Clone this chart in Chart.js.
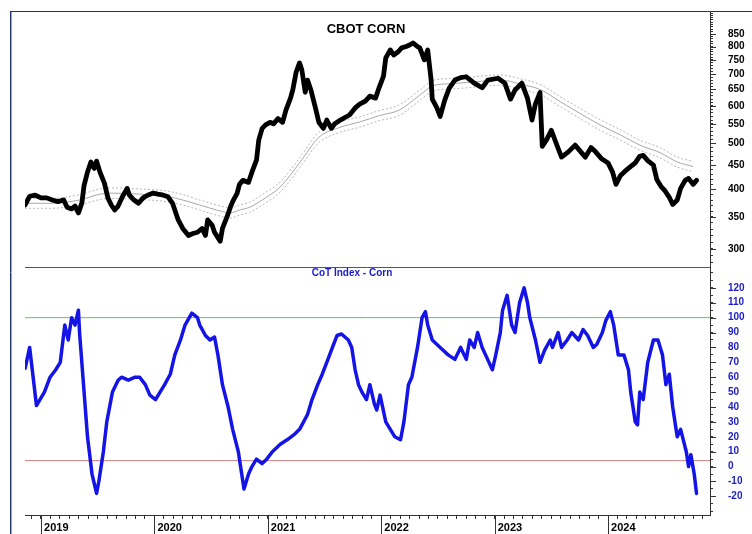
<!DOCTYPE html>
<html>
<head>
<meta charset="utf-8">
<script src="https://cdn.jsdelivr.net/npm/chart.js@4.4.1/dist/chart.umd.min.js"></script>
<style>
  html, body { margin: 0; padding: 0; background: #fff; }
  #wrap { position: relative; width: 752px; height: 534px; }
</style>
</head>
<body>
<div id="wrap"><canvas id="cornChart" width="752" height="534"></canvas></div>
<script>
// CBOT corn, weekly-ish closes (decimal year, cents/bu)
const priceDates = [2018.86, 2018.90, 2018.95, 2019.00, 2019.05, 2019.10, 2019.15, 2019.20, 2019.23, 2019.27,
  2019.30, 2019.33, 2019.36, 2019.38, 2019.41, 2019.44, 2019.47, 2019.49, 2019.52, 2019.56,
  2019.59, 2019.62, 2019.65, 2019.68, 2019.72, 2019.76, 2019.78, 2019.82, 2019.86, 2019.90,
  2019.94, 2019.99, 2020.03, 2020.08, 2020.12, 2020.16, 2020.18, 2020.21, 2020.25, 2020.30,
  2020.34, 2020.38, 2020.42, 2020.45, 2020.47, 2020.51, 2020.53, 2020.58, 2020.60, 2020.64,
  2020.67, 2020.69, 2020.73, 2020.75, 2020.78, 2020.83, 2020.86, 2020.90, 2020.92, 2020.95,
  2020.98, 2021.02, 2021.05, 2021.09, 2021.13, 2021.16, 2021.20, 2021.22, 2021.25, 2021.28,
  2021.30, 2021.33, 2021.35, 2021.38, 2021.42, 2021.45, 2021.49, 2021.52, 2021.56, 2021.59,
  2021.64, 2021.68, 2021.72, 2021.77, 2021.81, 2021.86, 2021.90, 2021.95, 2021.98, 2022.02,
  2022.04, 2022.08, 2022.11, 2022.15, 2022.18, 2022.22, 2022.25, 2022.28, 2022.32, 2022.34,
  2022.38, 2022.41, 2022.44, 2022.45, 2022.49, 2022.52, 2022.56, 2022.60, 2022.65, 2022.70,
  2022.75, 2022.82, 2022.89, 2022.94, 2023.03, 2023.09, 2023.14, 2023.18, 2023.24, 2023.29,
  2023.33, 2023.36, 2023.40, 2023.42, 2023.46, 2023.50, 2023.55, 2023.59, 2023.65, 2023.71,
  2023.76, 2023.80, 2023.85, 2023.89, 2023.94, 2024.00, 2024.04, 2024.07, 2024.11, 2024.15,
  2024.19, 2024.24, 2024.28, 2024.31, 2024.35, 2024.40, 2024.43, 2024.47, 2024.50, 2024.54,
  2024.57, 2024.61, 2024.64, 2024.68, 2024.71, 2024.75, 2024.78];
const priceValues = [371, 387, 389, 384, 384, 380, 377, 380, 367, 364,
  369, 357, 374, 408, 435, 457, 443, 459, 435, 412,
  384, 371, 362, 369, 387, 402, 389, 380, 374, 384,
  389, 393, 391, 389, 386, 374, 362, 345, 331, 320,
  323, 325, 331, 320, 345, 336, 325, 311, 331, 350,
  367, 377, 393, 410, 418, 414, 435, 461, 508, 538,
  547, 554, 550, 564, 554, 588, 623, 648, 707, 739,
  714, 641, 680, 648, 594, 554, 538, 560, 538, 550,
  560, 567, 574, 594, 605, 614, 629, 623, 654, 693,
  757, 787, 768, 780, 795, 800, 806, 814, 800, 795,
  750, 787, 680, 620, 595, 570, 617, 654, 680, 688,
  691, 670, 655, 680, 686, 670, 620, 648, 670, 622,
  560, 606, 640, 493, 510, 533, 495, 468, 480, 496,
  480, 468, 490, 480, 465, 455, 435, 410, 428, 437,
  445, 455, 470, 472, 460, 450, 420, 405, 398, 385,
  372, 380, 402, 418, 422, 410, 418];

// moving average and its envelope
const maDates = [2018.86, 2019.08, 2019.34, 2019.52, 2019.61, 2019.87, 2020.11, 2020.25, 2020.40, 2020.55,
  2020.67, 2020.75, 2020.84, 2020.95, 2021.11, 2021.28, 2021.45, 2021.63, 2021.81, 2021.98,
  2022.16, 2022.34, 2022.46, 2022.61, 2022.76, 2023.05, 2023.23, 2023.41, 2023.58, 2023.76,
  2023.93, 2024.11, 2024.28, 2024.46, 2024.61, 2024.75];
const maValues = [374, 374, 380, 391, 393, 391, 387, 380, 371, 362,
  357, 362, 367, 380, 405, 455, 515, 540, 555, 572,
  588, 632, 662, 668, 672, 680, 667, 648, 612, 577,
  547, 521, 496, 478, 457, 447];
const maUpper = [383, 383, 390, 401, 403, 401, 397, 390, 380, 371,
  366, 371, 376, 390, 415, 466, 528, 554, 569, 586,
  603, 648, 679, 685, 689, 697, 684, 664, 627, 591,
  561, 534, 508, 490, 468, 458];
const maLower = [365, 365, 371, 381, 383, 381, 377, 371, 362, 353,
  348, 353, 358, 371, 395, 444, 502, 527, 541, 558,
  573, 616, 645, 651, 655, 663, 650, 632, 597, 563,
  533, 508, 484, 466, 446, 436];

// CoT index
const cotDates = [2018.86, 2018.90, 2018.96, 2019.03, 2019.08, 2019.13, 2019.17, 2019.21, 2019.24, 2019.27,
  2019.30, 2019.33, 2019.34, 2019.37, 2019.41, 2019.45, 2019.49, 2019.51, 2019.55, 2019.58,
  2019.63, 2019.68, 2019.71, 2019.77, 2019.83, 2019.87, 2019.92, 2019.96, 2020.01, 2020.05,
  2020.09, 2020.14, 2020.18, 2020.23, 2020.27, 2020.33, 2020.38, 2020.40, 2020.45, 2020.49,
  2020.53, 2020.56, 2020.60, 2020.65, 2020.69, 2020.74, 2020.79, 2020.83, 2020.86, 2020.90,
  2020.95, 2020.99, 2021.04, 2021.11, 2021.17, 2021.24, 2021.28, 2021.35, 2021.39, 2021.44,
  2021.48, 2021.52, 2021.57, 2021.61, 2021.65, 2021.71, 2021.74, 2021.77, 2021.80, 2021.83,
  2021.87, 2021.90, 2021.94, 2021.96, 2021.99, 2022.04, 2022.08, 2022.12, 2022.17, 2022.20,
  2022.24, 2022.27, 2022.32, 2022.36, 2022.39, 2022.41, 2022.45, 2022.52, 2022.59, 2022.65,
  2022.70, 2022.75, 2022.78, 2022.82, 2022.85, 2022.89, 2022.92, 2022.98, 2023.01, 2023.05,
  2023.07, 2023.11, 2023.15, 2023.18, 2023.22, 2023.26, 2023.29, 2023.31, 2023.36, 2023.40,
  2023.44, 2023.49, 2023.51, 2023.56, 2023.59, 2023.64, 2023.68, 2023.74, 2023.78, 2023.82,
  2023.87, 2023.90, 2023.95, 2023.98, 2024.02, 2024.05, 2024.09, 2024.14, 2024.18, 2024.20,
  2024.24, 2024.26, 2024.28, 2024.31, 2024.35, 2024.40, 2024.44, 2024.48, 2024.51, 2024.54,
  2024.57, 2024.61, 2024.64, 2024.69, 2024.71, 2024.73, 2024.76, 2024.78];
const cotValues = [66, 80, 41, 50, 60, 65, 70, 95, 85, 100,
  95, 105, 90, 60, 20, -5, -18, -10, 10, 30,
  50, 58, 60, 58, 60, 60, 55, 48, 45, 50,
  55, 62, 75, 85, 95, 103, 100, 95, 88, 85,
  87, 75, 55, 40, 25, 10, -15, -5, 0, 5,
  2, 5, 10, 15, 18, 22, 25, 35, 45, 55,
  62, 70, 80, 88, 89, 85, 80, 65, 55, 50,
  45, 55, 42, 38, 48, 30, 25, 20, 18, 30,
  55, 60, 80, 100, 104, 95, 85, 80, 75, 72,
  80, 72, 85, 80, 90, 80, 75, 65, 75, 90,
  105, 115, 95, 90, 110, 120, 110, 100, 85, 70,
  78, 85, 80, 90, 80, 85, 90, 85, 92, 88,
  80, 82, 90, 98, 104, 95, 75, 75, 65, 50,
  30, 28, 50, 45, 70, 85, 85, 75, 55, 62,
  40, 20, 25, 10, 0, 8, -5, -18];
const cotHighLine = 100;
const cotLowLine = 4;

// axis labels
const priceTicks = [300, 350, 400, 450, 500, 550, 600, 650, 700, 750, 800, 850];
const cotTicks = [-20, -10, 0, 10, 20, 30, 40, 50, 60, 70, 80, 90, 100, 110, 120];
const yearTicks = [2019, 2020, 2021, 2022, 2023, 2024];

const xStart = 2018.859;
const xEnd = 2024.899;

function pairs(xs, ys) {
  return xs.map((x, i) => ({ x: x, y: ys[i] }));
}

// keep tick labels from eating into the plot area
function noMargins(scale) {
  scale.paddingTop = 0;
  scale.paddingBottom = 0;
  scale.paddingLeft = 0;
  scale.paddingRight = 0;
}

const labelFont = { family: 'Liberation Sans', size: 10, weight: 'bold' };

const decor = {
  id: 'decor',
  beforeDraw(chart) {
    const c = chart.ctx;
    c.save();
    c.fillStyle = '#fff';
    c.fillRect(0, 0, chart.width, chart.height);
    // outer frame
    c.strokeStyle = '#9aa8cc';
    c.lineWidth = 1;
    c.beginPath(); c.moveTo(11.5, 11); c.lineTo(11.5, chart.height); c.stroke();
    c.strokeStyle = '#22306e';
    c.beginPath(); c.moveTo(10.5, 11); c.lineTo(10.5, chart.height); c.stroke();
    c.beginPath(); c.moveTo(10, 11.5); c.lineTo(chart.width, 11.5); c.stroke();
    c.restore();
  },
  afterDraw(chart) {
    const c = chart.ctx;
    const area = chart.chartArea;
    const yp = chart.scales.yPrice;
    const yc = chart.scales.yCot;
    const xs = chart.scales.x;
    c.save();
    // panel divider
    c.strokeStyle = '#555';
    c.lineWidth = 1;
    c.beginPath();
    c.moveTo(area.left, Math.round(yp.bottom) + 0.5);
    c.lineTo(area.right, Math.round(yp.bottom) + 0.5);
    c.stroke();
    // longer ticks at labelled values
    c.strokeStyle = '#333';
    const longTick = (scale, v) => {
      const py = Math.round(scale.getPixelForValue(v)) + 0.5;
      c.beginPath(); c.moveTo(scale.left, py); c.lineTo(scale.left + 6, py); c.stroke();
    };
    priceTicks.forEach(v => longTick(yp, v));
    cotTicks.forEach(v => longTick(yc, v));
    // long year ticks
    yearTicks.forEach(y => {
      const px = Math.round(xs.getPixelForValue(y)) + 0.5;
      c.beginPath(); c.moveTo(px, area.bottom); c.lineTo(px, chart.height); c.stroke();
    });
    // panel titles
    c.textAlign = 'center';
    c.textBaseline = 'alphabetic';
    c.fillStyle = '#000';
    c.font = 'bold 13px "Liberation Sans"';
    c.fillText('CBOT CORN', 366, 33);
    c.fillStyle = '#1a1ad0';
    c.font = 'bold 10px "Liberation Sans"';
    c.fillText('CoT Index - Corn', 352, 276);
    c.restore();
  }
};

const ctx = document.getElementById('cornChart').getContext('2d');
const cornChart = new Chart(ctx, {
  type: 'line',
  data: {
    datasets: [
      { label: 'CBOT Corn', data: pairs(priceDates, priceValues), yAxisID: 'yPrice',
        borderColor: '#000', borderWidth: 4.8, borderJoinStyle: 'round', borderCapStyle: 'round' },
      { label: 'CoT Index', data: pairs(cotDates, cotValues), yAxisID: 'yCot',
        borderColor: '#1414e6', borderWidth: 3.5, borderJoinStyle: 'round', borderCapStyle: 'round' },
      { label: 'MA', data: pairs(maDates, maValues), yAxisID: 'yPrice',
        borderColor: '#a8a8a8', borderWidth: 1, cubicInterpolationMode: 'monotone' },
      { label: 'MA upper', data: pairs(maDates, maUpper), yAxisID: 'yPrice',
        borderColor: '#b8b8b8', borderWidth: 1, borderDash: [2, 2], cubicInterpolationMode: 'monotone' },
      { label: 'MA lower', data: pairs(maDates, maLower), yAxisID: 'yPrice',
        borderColor: '#b8b8b8', borderWidth: 1, borderDash: [2, 2], cubicInterpolationMode: 'monotone' },
      { label: 'High', data: [{ x: xStart, y: cotHighLine }, { x: xEnd, y: cotHighLine }], yAxisID: 'yCot',
        borderColor: '#6cbf6c', borderWidth: 1 },
      { label: 'Low', data: [{ x: xStart, y: cotLowLine }, { x: xEnd, y: cotLowLine }], yAxisID: 'yCot',
        borderColor: '#c98080', borderWidth: 1 }
    ]
  },
  options: {
    responsive: false,
    animation: false,
    devicePixelRatio: 1,
    events: [],
    layout: { padding: { left: 25, top: 12, right: 0, bottom: 0 } },
    elements: { point: { radius: 0 }, line: { tension: 0 } },
    plugins: { legend: { display: false }, tooltip: { enabled: false } },
    scales: {
      x: {
        type: 'linear',
        position: 'bottom',
        min: xStart,
        max: xEnd,
        afterBuildTicks: (scale) => {
          const t = [];
          for (let y = 2018; y <= 2025; y++) {
            for (let m = 0; m < 12; m++) {
              const v = y + m / 12;
              if (v >= xStart && v <= xEnd) t.push({ value: v });
            }
          }
          scale.ticks = t;
        },
        afterFit: (scale) => { scale.height = 19; noMargins(scale); },
        grid: { drawOnChartArea: false, tickLength: 4, color: '#333' },
        border: { display: true, color: '#333' },
        ticks: {
          autoSkip: false, maxRotation: 0, align: 'start', padding: 2,
          color: '#000', font: { family: 'Liberation Sans', size: 11, weight: 'bold' },
          callback: (v) => {
            const r = Math.round(v);
            return (Math.abs(v - r) < 1e-6 && yearTicks.includes(r)) ? ' ' + r : '';
          }
        }
      },
      yPrice: {
        type: 'logarithmic',
        position: 'right',
        stack: 'panels',
        stackWeight: 255,
        min: 274.6,
        max: 946,
        afterBuildTicks: (scale) => {
          const t = [];
          for (let v = 280; v <= 940; v += 10) t.push({ value: v });
          scale.ticks = t;
        },
        afterFit: (scale) => { scale.width = 42; noMargins(scale); },
        grid: { drawOnChartArea: false, tickLength: 3, color: '#333' },
        border: { display: true, color: '#333' },
        ticks: {
          autoSkip: false, padding: 15, color: '#000', font: labelFont,
          callback: (v) => priceTicks.includes(v) ? String(v) : ''
        }
      },
      yCot: {
        type: 'linear',
        position: 'right',
        stack: 'panels',
        stackWeight: 248,
        min: -32.5,
        max: 134,
        afterBuildTicks: (scale) => {
          const t = [];
          for (let v = -30; v <= 130; v += 5) t.push({ value: v });
          scale.ticks = t;
        },
        afterFit: (scale) => { scale.width = 42; noMargins(scale); },
        grid: { drawOnChartArea: false, tickLength: 3, color: '#333' },
        border: { display: true, color: '#333' },
        ticks: {
          autoSkip: false, padding: 15, color: '#1c1cc8', font: labelFont,
          callback: (v) => cotTicks.includes(v) ? String(v) : ''
        }
      }
    }
  },
  plugins: [decor]
});
</script>
</body>
</html>
